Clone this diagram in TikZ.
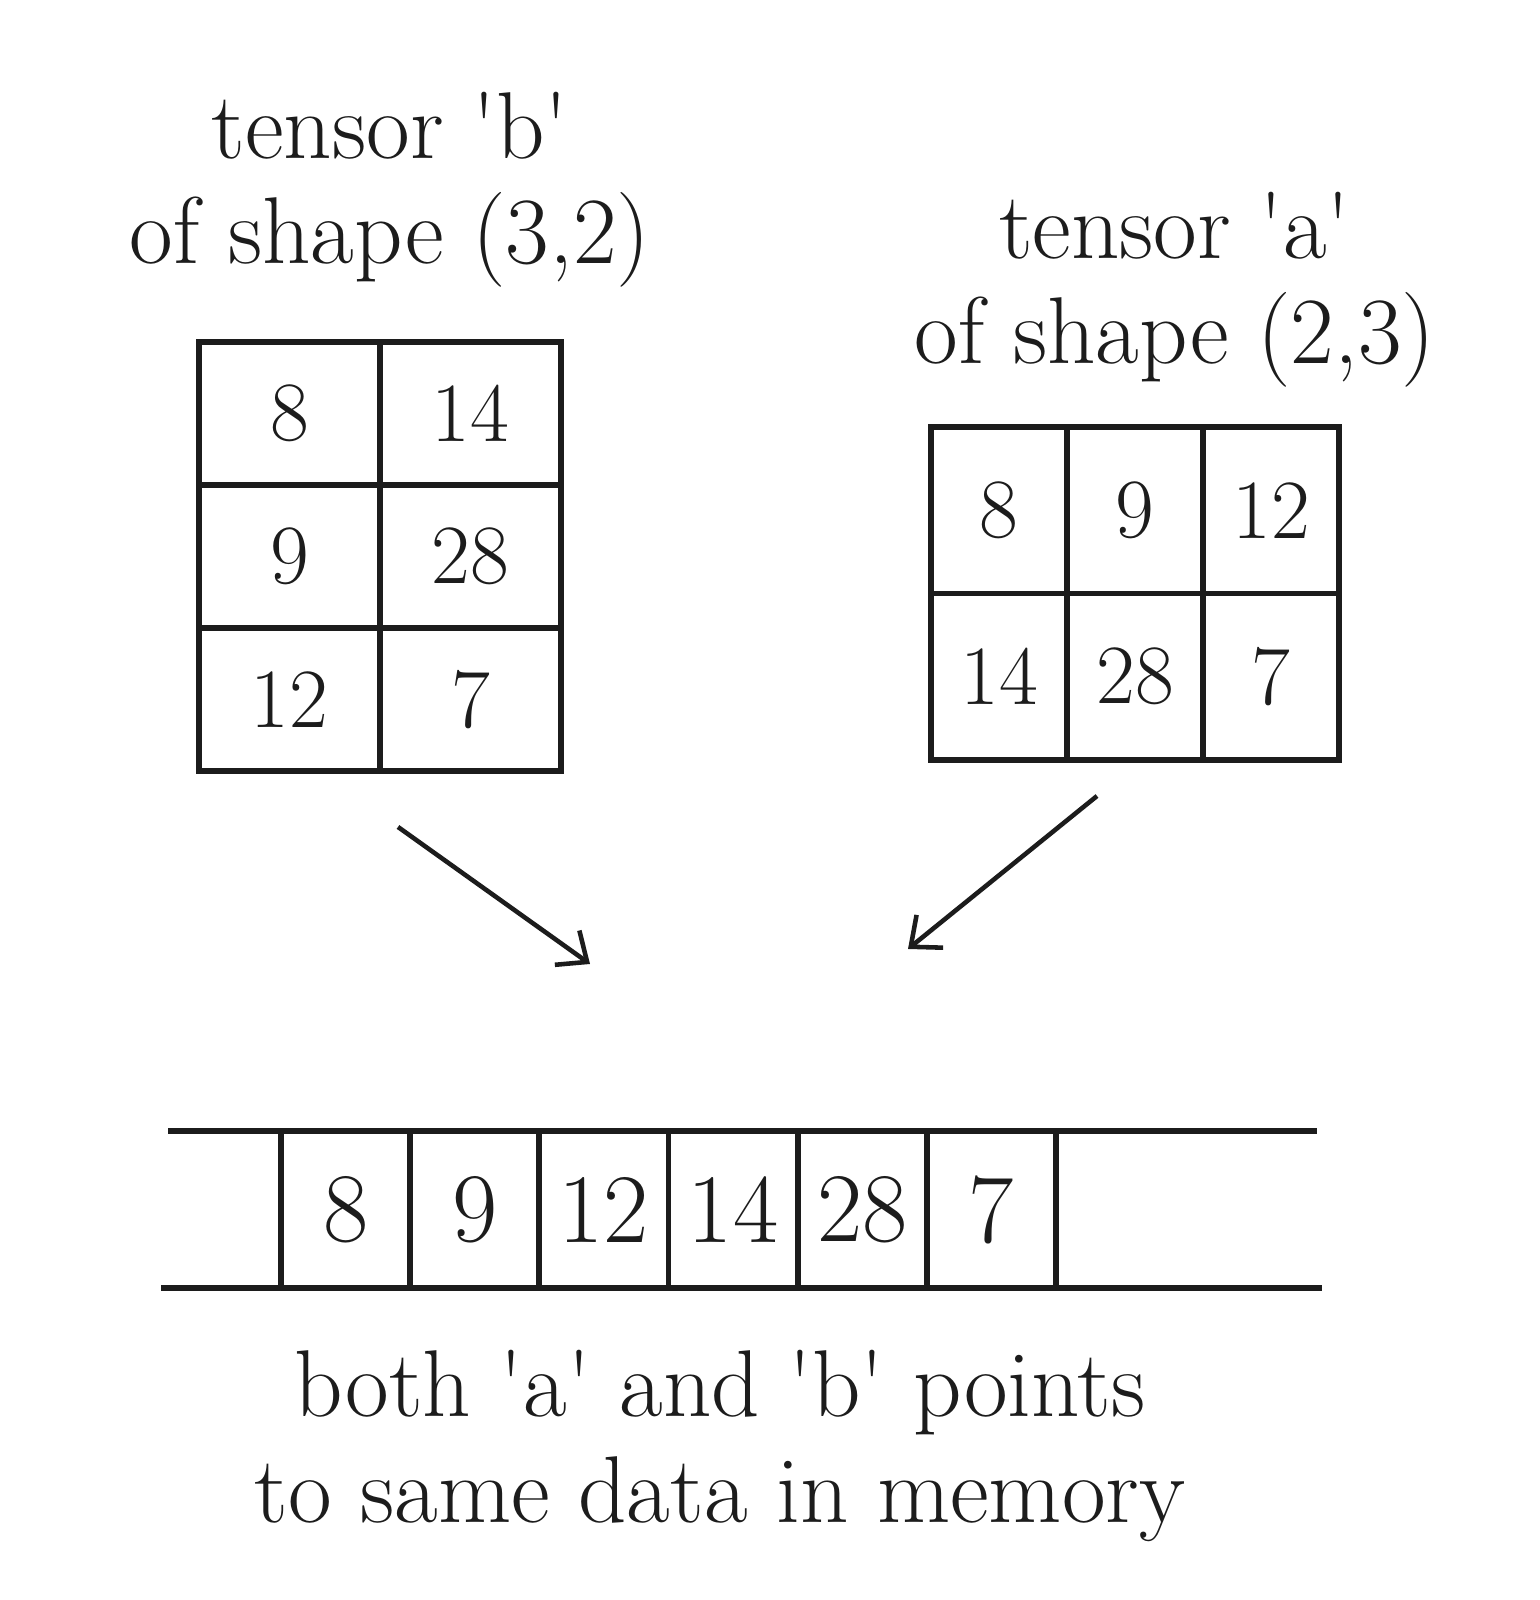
\documentclass[tikz,border=0pt]{standalone}
\usepackage{xcolor}
\usepackage{tikz}
\usetikzlibrary{arrows.meta}
\definecolor{inkdark}{HTML}{1C1C1C}

\tikzset{
  cellbox/.style={draw=inkdark, line width=1.6pt, inner sep=0pt, text=inkdark,
    font=\fontsize{24}{28}\selectfont},
  memcell/.style={cellbox, minimum width=1.29cm, minimum height=1.57cm,
    font=\fontsize{28}{32}\selectfont},
  caption/.style={text=inkdark, align=center, font=\fontsize{27}{30}\selectfont},
  pointer/.style={draw=inkdark, line width=1.3pt, -{Straight Barb[length=7pt, width=12pt]}}
}
\newcommand{\tick}{{\textquotesingle}}

\begin{document}
\begin{tikzpicture}
    \useasboundingbox (0,0) rectangle (15.39,16);

    % tensor b, shape (3,2)
    \node[caption] (btitle) at (3.9,14.1) {tensor \tick b\tick\\of shape (3,2)};
    \node[cellbox, minimum width=1.81cm, minimum height=1.43cm] (b11) at (2.895,11.865) {8};
    \node[cellbox, minimum width=1.81cm, minimum height=1.43cm] (b12) at (4.705,11.865) {14};
    \node[cellbox, minimum width=1.81cm, minimum height=1.43cm] (b21) at (2.895,10.435) {9};
    \node[cellbox, minimum width=1.81cm, minimum height=1.43cm] (b22) at (4.705,10.435) {28};
    \node[cellbox, minimum width=1.81cm, minimum height=1.43cm] (b31) at (2.895,9.005) {12};
    \node[cellbox, minimum width=1.81cm, minimum height=1.43cm] (b32) at (4.705,9.005) {7};

    % tensor a, shape (2,3)
    \node[caption] (atitle) at (11.75,13.1) {tensor \tick a\tick\\of shape (2,3)};
    \node[cellbox, minimum width=1.36cm, minimum height=1.665cm] (a11) at (9.99,10.8975) {8};
    \node[cellbox, minimum width=1.36cm, minimum height=1.665cm] (a12) at (11.35,10.8975) {9};
    \node[cellbox, minimum width=1.36cm, minimum height=1.665cm] (a13) at (12.71,10.8975) {12};
    \node[cellbox, minimum width=1.36cm, minimum height=1.665cm] (a21) at (9.99,9.2325) {14};
    \node[cellbox, minimum width=1.36cm, minimum height=1.665cm] (a22) at (11.35,9.2325) {28};
    \node[cellbox, minimum width=1.36cm, minimum height=1.665cm] (a23) at (12.71,9.2325) {7};

    % arrows down to the storage
    \coordinate (bfrom) at (3.98,7.73);
    \coordinate (bto) at (5.90,6.36);
    \coordinate (afrom) at (10.97,8.04);
    \coordinate (ato) at (9.08,6.51);
    \draw[pointer] (bfrom) -- (bto);
    \draw[pointer] (afrom) -- (ato);

    % shared memory strip
    \coordinate (striptl) at (1.68,4.69);
    \coordinate (striptr) at (13.17,4.69);
    \coordinate (stripbl) at (1.61,3.12);
    \coordinate (stripbr) at (13.22,3.12);
    \draw[inkdark, line width=1.6pt] (striptl) -- (striptr);
    \draw[inkdark, line width=1.6pt] (stripbl) -- (stripbr);
    \node[memcell] (m1) at (3.456,3.905) {8};
    \node[memcell] (m2) at (4.747,3.905) {9};
    \node[memcell] (m3) at (6.039,3.905) {12};
    \node[memcell] (m4) at (7.331,3.905) {14};
    \node[memcell] (m5) at (8.622,3.905) {28};
    \node[memcell] (m6) at (9.914,3.905) {7};

    \node[caption] (note) at (7.2,1.54) {both \tick a\tick\ and \tick b\tick\ points\\to same data in memory};
\end{tikzpicture}
\end{document}
